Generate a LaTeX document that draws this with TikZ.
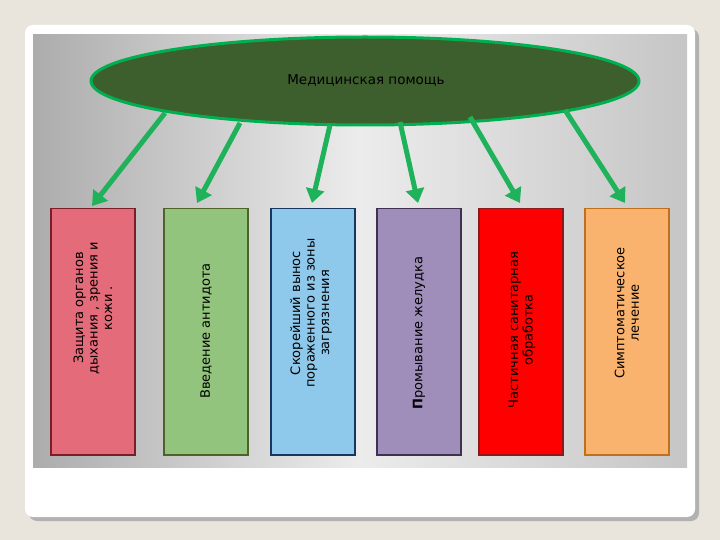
\documentclass[tikz,border=0pt]{standalone}
\usepackage{fontspec}
\setmainfont{DejaVu Sans}
\usetikzlibrary{arrows.meta,shapes.geometric}
\begin{document}
\begin{tikzpicture}[x=1pt,y=-1pt,
  box/.style={draw,line width=1.5pt,anchor=north west,minimum width=84pt,minimum height=246pt,inner sep=0pt},
  lbl/.style={rotate=90,align=center,font=\fontsize{13}{14.5}\selectfont,text=black},
  arr/.style={color={rgb,255:red,31;green,178;blue,90},line width=5pt,-{Triangle[length=14pt,width=18pt]}}]
\useasboundingbox (0,0) rectangle (720,540);
\fill[fill={rgb,255:red,233;green,229;blue,220}] (0,0) rectangle (720,540);
\fill[gray!60,rounded corners=8pt] (29,29) rectangle (699,521);
\fill[white,rounded corners=8pt] (25,25) rectangle (695,517);
\shade[left color=gray!65,right color=gray!45,middle color=gray!15] (33,35) rectangle (687,467);
\node[ellipse,draw={rgb,255:red,0;green,176;blue,80},line width=3pt,fill={rgb,255:red,61;green,94;blue,45},minimum width=548pt,minimum height=88pt,inner sep=0pt] (E) at (365,81) {};
\node[font=\fontsize{13.5}{15}\selectfont] (T) at (366,81) {Медицинская помощь};
\node[box,fill={rgb,255:red,228;green,108;blue,122},draw={rgb,255:red,123;green,30;blue,42}] (b1) at (50,208) {};
\node[box,fill={rgb,255:red,146;green,196;blue,125},draw={rgb,255:red,79;green,98;blue,40}] (b2) at (163,208) {};
\node[box,fill={rgb,255:red,142;green,200;blue,234},draw={rgb,255:red,23;green,55;blue,94}] (b3) at (270,208) {};
\node[box,fill={rgb,255:red,159;green,141;blue,186},draw={rgb,255:red,64;green,49;blue,82}] (b4) at (376,208) {};
\node[box,fill={rgb,255:red,255;green,0;blue,0},draw={rgb,255:red,139;green,26;blue,26}] (b5) at (478,208) {};
\node[box,fill={rgb,255:red,250;green,179;blue,110},draw={rgb,255:red,192;green,112;blue,26}] (b6) at (584,208) {};
\node[lbl] (l1) at (93,308) {Защита органов\\дыхания , зрения и\\кожи .};
\node[lbl] (l2) at (206,331) {Введение антидота};
\node[lbl] (l3) at (311,313) {Скорейший вынос\\пораженного из зоны\\загрязнения};
\node[lbl] (l4) at (419,333) {\textbf{П}ромывание желудка};
\node[lbl] (l5) at (522,330) {Частичная санитарная\\обработка};
\node[lbl] (l6) at (627,313) {Симптоматическое\\лечение};
\coordinate (a1) at (165,113); \coordinate (t1) at (92,206);
\coordinate (a2) at (240,123); \coordinate (t2) at (197,203);
\coordinate (a3) at (330,125); \coordinate (t3) at (312,203);
\coordinate (a4) at (400,122); \coordinate (t4) at (418,203);
\coordinate (a5) at (470,117); \coordinate (t5) at (520,203);
\coordinate (a6) at (565,110); \coordinate (t6) at (625,203);
\foreach \i in {1,...,6}{\draw[arr] (a\i) -- (t\i);}
\end{tikzpicture}
\end{document}
